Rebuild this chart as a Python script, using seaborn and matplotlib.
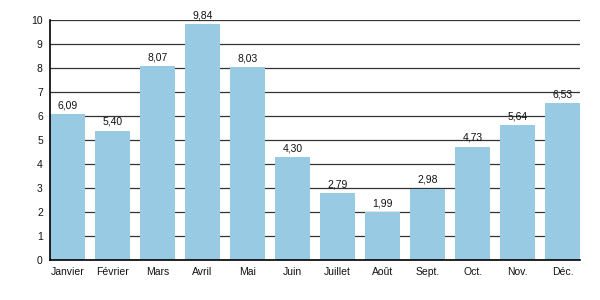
import matplotlib
matplotlib.use("Agg")
import matplotlib.pyplot as plt
import seaborn as sns
import pandas as pd

months = ["Janvier", "Février", "Mars", "Avril", "Mai", "Juin", "Juillet",
          "Août", "Sept.", "Oct.", "Nov.", "Déc."]
values = [6.09, 5.40, 8.07, 9.84, 8.03, 4.30, 2.79, 1.99, 2.98, 4.73, 5.64, 6.53]
yticks = [0, 1, 2, 3, 4, 5, 6, 7, 8, 9, 10]

sns.set_theme(style="white")
plt.rcParams['font.family'] = ['Liberation Sans', 'DejaVu Sans']

df = pd.DataFrame({"mois": months, "valeur": values})

fig = plt.figure(figsize=(6, 3), dpi=100)
ax = fig.add_axes([0.083, 0.133, 0.884, 0.8])
ax.set_axisbelow(True)
ax.yaxis.grid(True, color="#333333", linewidth=0.9)
sns.barplot(data=df, x="mois", y="valeur", color="#98CBE3", saturation=1,
            width=0.78, linewidth=0, ax=ax)
for i, v in enumerate(values):
    ax.text(i, v + 0.15, f"{v:.2f}".replace(".", ","), ha="center", va="bottom",
            fontsize=7.5, color="#111111")
ax.set_ylim(0, 10)
ax.set_xlim(-0.39, 11.39)
ax.set_yticks(yticks)
ax.set_yticklabels([str(t) for t in yticks])
ax.set_xlabel("")
ax.set_ylabel("")
ax.tick_params(axis="both", labelsize=7.5, colors="#111111", length=0, pad=5)
for s in ["top", "right"]:
    ax.spines[s].set_visible(False)
for s in ["left", "bottom"]:
    ax.spines[s].set_color("#000000")
    ax.spines[s].set_linewidth(1.2)
fig.savefig("out.png", dpi=100)
